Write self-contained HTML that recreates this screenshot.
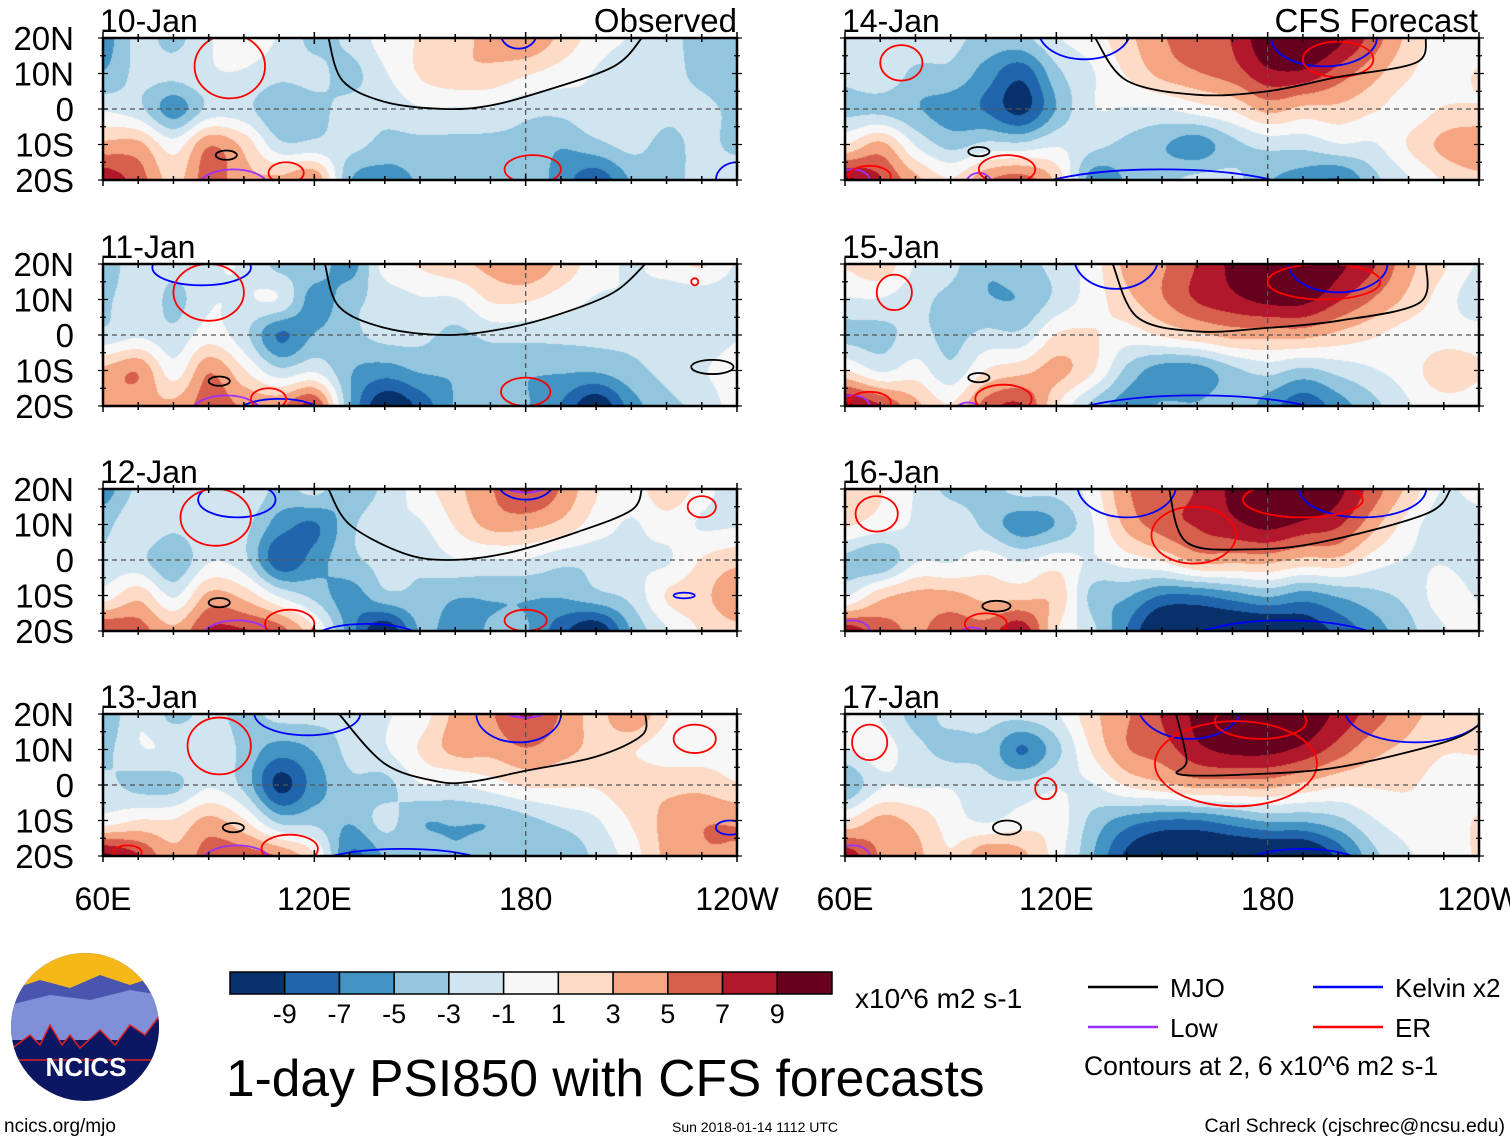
<!DOCTYPE html>
<html><head><meta charset="utf-8">
<style>
html,body{margin:0;padding:0;background:#fff;}
body{width:1510px;height:1142px;position:relative;overflow:hidden;font-family:"Liberation Sans",Arial,sans-serif;}
canvas{position:absolute;}
svg{position:absolute;left:0;top:0;}
</style></head>
<body>
<div id="maps"></div>
<svg id="ov" width="1510" height="1142"></svg>
<script>
// ---- data ----
const lonGrid=[60,70,80,90,100,110,120,130,140,150,160,170,180,190,200,210,220,230,240];
const latGrid=[20,10,0,-10,-20];
const panelDates=["10-Jan","11-Jan","12-Jan","13-Jan","14-Jan","15-Jan","16-Jan","17-Jan"];
const levels=[-9,-7,-5,-3,-1,1,3,5,7,9];
const levelColors=["#08306b","#2166ac","#4393c3","#92c5de","#d1e5f0","#f7f7f7","#fddbc7","#f4a582","#d6604d","#b2182b","#67001f"];
const levelLabels=["-9","-7","-5","-3","-1","1","3","5","7","9"];
// values per lon column: [20N,10N,0,10S,20S]
const psi10=[[-5,-4,-1,3,7],[-2,-2,-2,3,5],[-3,-2,-5,0,2],[-1,-1,-2,4,5],[0,-1,-2,2,3],[-1,-2,-4,-2,3],[-3,-2,-3,-2,4],[-2,-3,-2,-2,-4],[0,-1,-2,-3,-5],[1,1,-1,-3,-4],[2,2,-1,-3,-4],[3,2,-1,-3,-3],[4,1,-2,-3,-3],[2,0,-2,-4,-5],[0,-1,-1,-3,-7],[-1,-2,-1,-2,-4],[-2,-2,-2,-3,-3],[-3,-3,-2,-2,-2],[-3,-4,-3,-3,-1]];
const psi11=[[-4,-3,-2,3,4],[-1,-1,-1,4,3],[-2,-3,-2,0,3],[-1,-1,0,4,5],[-1,-1,-2,1,4],[-3,-1,-6,-2,4],[-3,-5,-4,-1,6],[-5,-3,-3,-4,-4],[0,-2,-2,-5,-9],[1,-1,-2,-4,-7],[2,-1,-3,-4,-4],[3,1,-2,-4,-3],[4,1,-2,-4,-4],[2,0,-2,-4,-6],[0,-1,-2,-4,-9],[-1,-1,-2,-3,-5],[0,-2,-2,-2,-3],[1,-2,-2,-1,-2],[-1,-2,-1,0,0]];
const psi12=[[-5,-3,-2,0,6],[-2,-1,-2,2,5],[-1,-2,-4,-1,3],[-2,-1,-1,3,6],[-1,-2,-2,2,6],[-3,-5,-7,-1,5],[-2,-6,-5,-3,1],[-4,-3,-3,-5,-5],[-2,-1,-2,-3,-9],[0,-1,-2,-3,-4],[2,1,-1,-4,-5],[4,3,-1,-4,-4],[6,3,-1,-4,-4],[4,2,-2,-4,-7],[1,0,-2,-3,-9],[0,-1,-1,-2,-4],[2,0,-1,1,-1],[0,-1,1,2,1],[-2,-1,2,4,2]];
const psi13=[[-4,-3,-2,0,8],[-1,-1,-3,1,6],[-3,-1,-3,1,3],[-2,-1,-1,3,5],[-3,-3,-3,1,5],[-2,-5,-8,-3,4],[-2,-4,-5,-3,1],[-2,-2,-3,-4,-6],[-1,-1,-3,-2,-4],[0,1,-1,-4,-3],[3,3,-1,-4,-4],[4,3,0,-4,-3],[6,4,1,-3,-3],[4,3,1,-2,-4],[2,2,1,-1,-2],[4,1,2,1,0],[1,0,2,3,3],[0,0,2,4,4],[0,0,1,4,4]];
const psi14=[[-2,-2,-3,1,8],[-1,-1,-3,3,6],[-1,-3,-4,-1,3],[-2,-3,-5,-3,1],[-3,-5,-6,-2,4],[-3,-7,-8,-2,5],[-1,-3,-4,-1,2],[0,-1,-1,-2,-5],[2,1,-1,-3,-4],[4,3,-1,-4,-3],[5,4,0,-5,-2],[6,5,1,-3,-2],[9,7,3,-2,-4],[10,7,2,-2,-5],[8,5,2,-1,-6],[5,3,1,-1,-3],[2,1,0,1,-1],[0,0,1,3,1],[0,1,1,4,2]];
const psi15=[[1,-1,-3,1,8],[2,-1,-3,-1,6],[-1,-2,-2,0,3],[-2,-3,-3,-2,1],[-4,-4,-2,1,5],[-3,-4,-2,2,6],[-2,-2,1,3,1],[0,0,1,1,-3],[3,2,0,-3,-5],[4,4,1,-5,-4],[6,6,2,-5,-4],[8,7,3,-3,-3],[10,8,3,-2,-5],[10,8,3,-3,-7],[8,6,2,-2,-5],[6,4,1,-1,-3],[3,2,0,0,-1],[1,0,0,2,0],[-1,-2,0,1,0]];
const psi16=[[2,1,-3,-1,7],[1,0,-4,2,5],[-1,-1,-1,3,4],[-3,-1,-1,3,5],[-3,-3,0,2,5],[-2,-5,-1,2,7],[-2,-4,0,2,1],[0,-1,-1,-3,-2],[4,3,0,-4,-6],[5,5,1,-6,-10],[6,6,3,-6,-10],[8,7,3,-5,-10],[10,8,3,-4,-10],[10,7,2,-5,-9],[8,6,2,-4,-7],[5,3,0,-3,-5],[2,0,-1,-2,-3],[-1,-2,-1,0,-1],[0,-2,-2,-1,0]];
const psi17=[[1,-1,-4,1,7],[-1,0,-1,3,4],[-3,-2,-1,2,3],[-2,-3,-1,0,1],[-2,-3,-2,-1,4],[-2,-6,-2,0,3],[-1,-3,-1,0,0],[2,1,-1,-3,-4],[4,4,1,-5,-8],[6,5,2,-6,-10],[8,7,3,-6,-10],[10,8,3,-5,-10],[10,8,3,-4,-10],[9,7,2,-4,-10],[7,5,1,-3,-7],[5,3,1,-1,-3],[3,2,1,0,-1],[2,1,0,0,0],[2,1,0,1,1]];
const psiFields=[psi10,psi11,psi12,psi13,psi14,psi15,psi16,psi17];
// MJO contour [lon,lat]
const mjo10=[[124,20],[128,8],[140,2],[157,0],[170,1],[185,5],[205,12],[213,20]];
const mjo11=[[123,20],[127,8],[140,2],[158,0],[175,2],[190,6],[205,12],[214,20]];
const mjo12=[[124,20],[130,10],[145,2],[158,0],[175,2],[195,8],[210,14],[213,20]];
const mjo13=[[127,20],[140,6],[155,1],[165,1],[180,4],[200,8],[213,14],[214,20]];
const mjo14=[[131,20],[140,8],[160,4],[180,5],[200,9],[222,13],[225,20]];
const mjo15=[[136,20],[143,5],[160,1],[180,2],[200,4],[223,9],[225,20]];
const mjo16=[[152,20],[157,5],[175,3],[195,5],[225,13],[232,20]];
const mjo17=[[154,20],[157,7],[155,3],[175,3],[200,5],[230,12],[240,17],[240,20]];
const mjoLines=[mjo10,mjo11,mjo12,mjo13,mjo14,mjo15,mjo16,mjo17];
// ellipses [lon,lat,rlon,rlat]
const erRings=[[[96,12,10,9],[182,-17,8,4],[112,-18,5,3]],[[90,12,10,8],[180,-16,7,4],[107,-18,5,3],[228,15,1,1]],[[92,12,10,8],[180,-17,6,3],[113,-18,7,4],[230,15,4,3]],[[93,11,9,8],[113,-18,8,4],[228,13,6,4],[67,-19,4,2]],[[76,13,6,5],[106,-17,8,4],[200,14,10,5],[67,-19,6,3]],[[74,12,5,5],[105,-18,8,4],[196,15,16,5],[67,-19,6,3]],[[69,13,6,5],[100,-18,6,3],[159,7,12,8],[190,17,17,5]],[[67,12,5,5],[171,6,23,12],[117,-1,3,3],[178,18,13,5]]];
const kelvinRings=[[[178,21,5,4],[240,-20,6,5]],[[88,19,14,5],[110,-22,12,4]],[[98,17,11,5],[180,22,8,5],[225,-10,3,0.8],[135,-22,15,4]],[[118,20,15,6],[178,20,12,8],[238,-12,4,2],[145,-23,25,5]],[[128,22,13,8],[196,20,15,8],[150,-25,40,8]],[[137,22,12,9],[200,20,14,8],[160,-25,40,8]],[[140,21,14,9],[207,20,18,8],[185,-25,30,8]],[[158,23,15,10],[222,21,20,9],[190,-25,20,7]]];
const lowRings=[[[97,-22,10,5]],[[95,-22,10,5]],[[98,-22,10,5],[180,21,6,2]],[[98,-22,10,5],[180,21,6,2]],[[98,-22,4,4],[62,-20,5,3]],[[95,-22,4,3],[62,-20,5,3]],[[96,-22,4,3],[62,-20,5,3]],[[95,-22,4,2],[62,-20,5,3]]];
const blackRings=[[[95,-13,3,1.3]],[[93,-13,3,1.3],[233,-9,6,2]],[[93,-12,3,1.3]],[[97,-12,3,1.3]],[[98,-12,3,1.3]],[[98,-12,3,1.3]],[[103,-13,4,1.5]],[[106,-12,4,2]]];
const fieldGain=1.2; // compensates smoothing of coarse grid

// ---- layout ----
const W=634,H=142;
const colX=[103,845], rowY=[38,264,489,714];
function panelPos(i){return {x:colX[i<4?0:1],y:rowY[i%4]};}
function xOf(p,lon){return p.x+(lon-60)*W/180;}
function yOf(p,lat){return p.y+(20-lat)*H/40;}
function hex(c){return [parseInt(c.substr(1,2),16),parseInt(c.substr(3,2),16),parseInt(c.substr(5,2),16)];}
const rgbLevels=levelColors.map(hex);
function cr(p0,p1,p2,p3,t){return 0.5*((2*p1)+(-p0+p2)*t+(2*p0-5*p1+4*p2-p3)*t*t+(-p0+3*p1-3*p2+p3)*t*t*t);}
function sample(f,lon,lat){
  const fx=(lon-60)/10, fy=(20-lat)/10;
  const i=Math.min(Math.floor(fx),lonGrid.length-2), j=Math.min(Math.floor(fy),latGrid.length-2);
  const tx=fx-i, ty=fy-j;
  const g=(a,b)=>f[Math.max(0,Math.min(lonGrid.length-1,a))][Math.max(0,Math.min(latGrid.length-1,b))];
  const rows=[];
  for(let b=j-1;b<=j+2;b++) rows.push(cr(g(i-1,b),g(i,b),g(i+1,b),g(i+2,b),tx));
  return cr(rows[0],rows[1],rows[2],rows[3],ty)*fieldGain;
}
const maps=document.getElementById('maps');
psiFields.forEach((f,i)=>{
  const p=panelPos(i);
  const c=document.createElement('canvas');
  c.width=W;c.height=H;c.style.left=p.x+'px';c.style.top=p.y+'px';
  
  
  const ctx=c.getContext('2d');const im=ctx.createImageData(W,H);
  for(let y=0;y<H;y++)for(let x=0;x<W;x++){
    const v=sample(f,60+x*180/W,20-y*40/H);
    let k=0;while(k<levels.length&&v>=levels[k])k++;
    const rgb=rgbLevels[k];const o=(y*W+x)*4;
    im.data[o]=rgb[0];im.data[o+1]=rgb[1];im.data[o+2]=rgb[2];im.data[o+3]=255;
  }
  ctx.putImageData(im,0,0);maps.appendChild(c);
});

const NS="http://www.w3.org/2000/svg";const ov=document.getElementById('ov');
function mk(tag,attrs,parent){const e=document.createElementNS(NS,tag);for(const k in attrs)e.setAttribute(k,attrs[k]);(parent||ov).appendChild(e);return e;}
function txt(s,x,y,size,anchor,name,extra){const t=mk('text',Object.assign({x:x,y:y,'font-size':size,'text-anchor':anchor||'start','font-family':'Liberation Sans, Arial, sans-serif',fill:'#000'},extra||{}));t.textContent=s;


return t;}
const defs=mk('defs',{});
psiFields.forEach((f,i)=>{
  const p=panelPos(i);
  const cp=mk('clipPath',{id:'cp'+i},defs);mk('rect',{x:p.x,y:p.y,width:W,height:H},cp);
  const g=mk('g',{'clip-path':'url(#cp'+i+')'});
  
  
  const eq=mk('line',{x1:p.x,x2:p.x+W,y1:yOf(p,0),y2:yOf(p,0),stroke:'#555','stroke-width':1.3,'stroke-dasharray':'5,4'},g);
  
  
  const dl=mk('line',{x1:xOf(p,180),x2:xOf(p,180),y1:p.y,y2:p.y+H,stroke:'#555','stroke-width':1.3,'stroke-dasharray':'5,4'},g);
  
  
  const ring=(arr,col,name)=>arr.forEach(r=>{const e=mk('ellipse',{cx:xOf(p,r[0]),cy:yOf(p,r[1]),rx:r[2]*W/180,ry:r[3]*H/40,fill:'none',stroke:col,'stroke-width':1.8},g);
    
    });
  ring(lowRings[i],'#9b30ff','low-contour');
  ring(kelvinRings[i],'#0000ff','kelvin-contour');
  ring(erRings[i],'#ff0000','er-contour');
  ring(blackRings[i],'#000','mjo-contour-small');
  const P=mjoLines[i].map(q=>[xOf(p,q[0]),yOf(p,q[1])]);
  let d='M'+P[0][0]+','+P[0][1];
  for(let k=0;k<P.length-1;k++){const a=P[Math.max(0,k-1)],b=P[k],c=P[k+1],e=P[Math.min(P.length-1,k+2)];
    d+=' C'+(b[0]+(c[0]-a[0])/6)+','+(b[1]+(c[1]-a[1])/6)+' '+(c[0]-(e[0]-b[0])/6)+','+(c[1]-(e[1]-b[1])/6)+' '+c[0]+','+c[1];}
  const ml=mk('path',{d:d,fill:'none',stroke:'#000','stroke-width':1.8},g);
  
  
  const fr=mk('rect',{x:p.x,y:p.y,width:W,height:H,fill:'none',stroke:'#000','stroke-width':2.5});
  
  
  for(let lon=60;lon<=240;lon+=10){const x=xOf(p,lon);const L=(lon%60===0)?6:4;
    mk('line',{x1:x,x2:x,y1:p.y-L,y2:p.y+L,stroke:'#000','stroke-width':1.5});
    mk('line',{x1:x,x2:x,y1:p.y+H-L,y2:p.y+H+L,stroke:'#000','stroke-width':1.5});}
  for(let lat=-20;lat<=20;lat+=5){const y=yOf(p,lat);const L=(lat%10===0)?5:3;
    mk('line',{x1:p.x-L,x2:p.x+L,y1:y,y2:y,stroke:'#000','stroke-width':1.2});
    mk('line',{x1:p.x+W-L,x2:p.x+W+L,y1:y,y2:y,stroke:'#000','stroke-width':1.2});}
  txt(panelDates[i],p.x-3,p.y-6,32,'start','panel-title');
  if(i<4){[['20N',20],['10N',10],['0',0],['10S',-10],['20S',-20]].forEach(l=>txt(l[0],74,yOf(p,l[1])+12,33,'end','lat-label'));}
});
txt('Observed',737,32,33,'end','observed-label');
txt('CFS Forecast',1478,32,33,'end','forecast-label');
[['60E',60],['120E',120],['180',180],['120W',240]].forEach(l=>{
  [0,1].forEach(c=>txt(l[0],colX[c]+(l[1]-60)*W/180,910,32,'middle','lon-label'));});
const cbX=230,cbW=602,cbY=972,cbH=22;
levelColors.forEach((c,k)=>{const r=mk('rect',{x:cbX+k*cbW/11,y:cbY,width:cbW/11,height:cbH,fill:c,stroke:'#000','stroke-width':1.5});
  
  });
levelLabels.forEach((s,k)=>txt(s,cbX+(k+1)*cbW/11,1023,27,'middle','colorbar-label'));
txt('x10^6 m2 s-1',855,1008,28,'start','colorbar-units');
txt('1-day PSI850 with CFS forecasts',226,1096,51.5,'start','chart-title');
txt('ncics.org/mjo',4,1132,19,'start','url-label');
txt('Sun 2018-01-14 1112 UTC',755,1132,14,'middle','timestamp');
txt('Carl Schreck (cjschrec@ncsu.edu)',1505,1132,19.5,'end','author-credit');
[['MJO','#000',1088,987],['Low','#9b30ff',1088,1027],['Kelvin x2','#0000ff',1313,987],['ER','#ff0000',1313,1027]].forEach(l=>{
  const ln=mk('line',{x1:l[2],x2:l[2]+70,y1:l[3],y2:l[3],stroke:l[1],'stroke-width':2.5});
  
  
  txt(l[0],l[2]+82,l[3]+10,26,'start','legend-entry');});
txt('Contours at 2, 6 x10^6 m2 s-1',1084,1075,26.5,'start','contour-note');
const lg=mk('g',{});
const lcp=mk('clipPath',{id:'lcp'},defs);mk('ellipse',{cx:85,cy:1027,rx:74,ry:74},lcp);
const lgi=mk('g',{'clip-path':'url(#lcp)'},lg);
mk('rect',{x:10,y:950,width:150,height:160,fill:'#0b1763'},lgi);
mk('rect',{x:10,y:950,width:150,height:45,fill:'#f6b818'},lgi);
mk('path',{d:'M10,990 L40,980 L70,988 L100,975 L130,985 L160,975 L160,1015 L10,1015Z',fill:'#4a55b0'},lgi);
mk('path',{d:'M10,1005 L50,995 L90,1000 L130,990 L160,995 L160,1040 L10,1040Z',fill:'#7f8fd8'},lgi);
mk('path',{d:'M10,1050 L30,1035 L40,1045 L50,1025 L62,1045 L70,1035 L80,1048 L100,1030 L115,1045 L130,1025 L145,1035 L160,1015 L160,1060 L10,1060Z',fill:'#0b1763',stroke:'#e02020','stroke-width':1.5},lgi);
txt('NCICS',86,1076,26,'middle','logo-text',{fill:'#fff','font-weight':'bold'});
</script>
</body></html>
